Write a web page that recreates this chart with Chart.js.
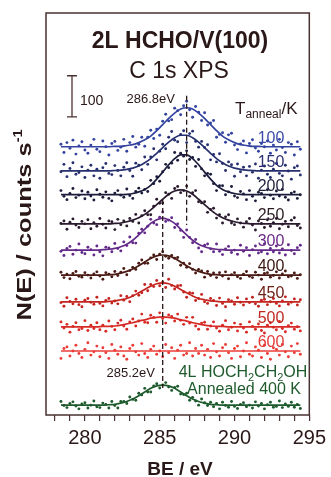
<!DOCTYPE html>
<html>
<head>
<meta charset="utf-8">
<script src="https://cdn.jsdelivr.net/npm/chart.js@4.4.1/dist/chart.umd.min.js"></script>
<style>
  html, body { margin: 0; padding: 0; background: #fff; }
  #xps { display: block; }
</style>
</head>
<body>
<canvas id="xps" width="331" height="477"></canvas>
<script>
// binding energy grid of the measured points (eV)
const beGrid = [278.4,278.6,278.8,279.0,279.2,279.4,279.6,279.8,280.0,280.2,280.4,280.6,280.8,281.0,281.2,281.4,281.6,281.8,282.0,282.2,
  282.4,282.6,282.8,283.0,283.2,283.4,283.6,283.8,284.0,284.2,284.4,284.6,284.8,285.0,285.2,285.4,285.6,285.8,286.0,286.2,
  286.4,286.6,286.8,287.0,287.2,287.4,287.6,287.8,288.0,288.2,288.4,288.6,288.8,289.0,289.2,289.4,289.6,289.8,290.0,290.2,
  290.4,290.6,290.8,291.0,291.2,291.4,291.6,291.8,292.0,292.2,292.4,292.6,292.8,293.0,293.2,293.4,293.6,293.8,294.0,294.2,294.4];
// grid of the fitted curves (eV)
const fitGrid = [278.4,278.8,279.2,279.6,280.0,280.4,280.8,281.2,281.6,282.0,282.4,282.8,283.2,283.6,284.0,284.4,284.8,285.2,285.6,286.0,
  286.4,286.8,287.2,287.6,288.0,288.4,288.8,289.2,289.6,290.0,290.4,290.8,291.2,291.6,292.0,292.4,292.8,293.2,293.6,294.0,294.4];

// counts above each trace's baseline
const counts100 = [6,-14,10,-4,16,-18,2,12,-8,-16, 4,18,-6,-12,14,0,-20,8,13,-9, -1,18,-11,10,25,-1,6,23,1,23,
  40,20,43,28,62,79,63,66,94,88, 78,100,111,90,72,98,84,64,83,53, 58,64,23,30,34,11,29,33,4,-7,
  7,14,-15,8,17,-3,-11,8,0,14, -16,4,-8,18,-2,-14,10,6,-20,12, -6];
const counts150 = [-2,16,-14,6,20,-8,-4,10,-16,2, 14,-12,4,-18,8,18,-6,-9,13,1, -12,9,20,1,-13,19,14,3,34,16,
  34,54,27,48,65,54,82,96,75,71, 89,98,69,91,97,72,58,72,57,64, 27,40,22,42,18,1,22,15,-13,17,
  -2,9,-12,11,-3,17,-18,2,12,-8, -16,4,18,-6,-12,14,0,-20,8,12, -10];
const counts200 = [10,-4,-12,3,15,-7,-1,9,-10,6, -3,-13,12,1,-6,7,-9,-15,4,10, -1,-6,14,-2,-9,8,16,4,13,8,
  35,27,44,33,56,74,66,77,103,84, 101,94,107,86,91,69,86,63,46,52, 50,27,10,22,22,0,7,20,-3,-7,
  8,2,-12,10,-4,-15,6,3,-7,12, -1,-10,9,-3,13,-6,-13,4,7,-9, 0];
const counts250 = [1,7,-13,4,12,-3,-9,6,0,10, -12,3,-6,13,-1,-10,7,5,-14,11, -2,7,-5,13,6,23,2,20,32,22,
  22,43,60,50,51,76,72,62,86,91, 76,81,92,67,76,81,54,51,54,28, 35,38,14,22,2,17,22,2,-2,12,
  2,-8,5,13,-3,-15,7,1,-9,10, -6,3,13,-12,-1,6,-7,9,15,-4, -10];
const counts300 = [-3,-13,4,9,-10,0,15,-6,-9,7, 1,-12,10,-4,-14,7,5,-4,16,4, -2,20,11,32,18,17,41,51,42,58,
  75,66,62,80,93,70,73,79,55,64, 48,31,49,31,18,26,5,-4,12,15, 3,-4,15,-3,-11,3,9,-6,0,-10,
  12,-3,6,-13,1,10,-7,-4,15,-9, 4,-4,10,-7,3,-12,13,-1,-9,6, 12];
const counts400 = [7,-6,2,-9,4,9,-3,-5,6,0, -7,3,8,-2,-10,6,2,-4,9,-1, 7,16,1,11,19,14,29,37,29,29,
  42,49,38,51,57,46,41,48,41,43, 24,29,19,28,14,5,14,10,-5,9, -1,5,-6,6,-2,8,-9,1,6,-4,
  -8,2,9,-3,-6,7,0,-10,4,6, -5,-1,8,-7,3,10,-4,-2,5,-8, 1];
const counts450 = [-2,-11,10,1,-5,6,-7,-12,4,8, -1,-6,11,-4,-10,3,8,-3,2,-5, 15,4,13,0,15,26,16,22,42,27,
  42,37,52,39,48,35,55,40,31,39, 40,24,11,22,21,3,8,18,0,-4, 8,3,-9,9,-4,-12,5,2,-6,10,
  -1,-8,7,-2,11,-5,-11,4,6,-7, 0,8,-4,-10,2,12,-6,-1,7,-8, 5];
const counts500 = [12,-3,6,-13,1,10,-7,-4,15,-9, 4,-4,10,-7,4,-11,14,1,-7,9, 16,2,-6,12,19,2,14,31,11,10,
  28,23,11,34,20,9,29,25,14,31, 16,6,23,9,23,2,-6,9,11,-6, 2,12,-3,-11,4,15,-7,-1,9,-10,
  6,-3,-13,12,1,-6,7,-9,-15,4, 10,-1,-7,13,-4,-12,3,9,-6,0, -10];
const counts600 = [-18,6,10,-12,0,14,-6,-16,4,20, -10,-2,12,-14,8,-4,-18,16,2,-8, 10,-12,-20,6,14,-2,-10,18,-6,-16,
  4,12,-8,0,-14,16,-4,8,-18,2, 14,-10,-6,20,-12,6,-6,14,-10,4, -16,18,-2,-12,8,16,-4,-18,6,12,
  -14,0,20,-8,-12,10,2,-16,14,-6, -20,8,4,-10,16,-2,-14,12,-4,18, -8];
const countsGlycol = [9,-1,-6,4,8,-2,-9,3,6,-7, 0,10,-4,-6,5,2,-7,9,-1,-7, 9,9,4,20,14,12,29,25,41,32,
  32,47,52,42,49,55,44,36,43,46, 27,26,29,12,19,10,0,15,6,-1, 7,-4,4,-9,7,-1,-5,9,-3,-8,
  2,6,-4,0,-7,8,-2,4,-9,1, 7,-5,-3,10,-6,3,-3,7,-5,2, -8];

// fitted curves, counts above baseline
const fit100 = [0,0,0,0,0,0,0,0,0,1,1,3,5,10,17,26,39,54,69,82,92,95,92,82,69,54,39,26,17,10,5,3,1,1,0,0,0,0,0,0,0];
const fit150 = [0,0,0,0,0,0,0,0,0,1,2,4,7,12,20,30,43,57,70,81,87,87,81,70,57,43,30,20,12,7,4,2,1,0,0,0,0,0,0,0,0];
const fit200 = [0,0,0,0,0,0,0,0,0,0,0,1,3,7,13,23,38,55,73,88,97,97,88,73,55,38,23,13,7,3,1,0,0,0,0,0,0,0,0,0,0];
const fit250 = [0,0,0,0,0,0,0,0,0,1,2,5,9,15,23,34,47,60,72,80,83,80,72,60,47,34,23,15,9,5,2,1,0,0,0,0,0,0,0,0,0];
const fit300 = [0,0,0,0,0,0,0,1,2,4,8,14,24,37,51,65,74,78,74,65,51,37,24,14,8,4,2,1,0,0,0,0,0,0,0,0,0,0,0,0,0];
const fit400 = [0,0,0,0,0,0,0,0,1,2,5,9,15,23,32,41,47,49,47,41,32,23,15,9,5,2,1,0,0,0,0,0,0,0,0,0,0,0,0,0,0];
const fit450 = [0,0,0,0,0,0,0,0,1,2,5,8,14,22,30,38,44,46,44,38,30,22,14,8,5,2,1,0,0,0,0,0,0,0,0,0,0,0,0,0,0];
const fit500 = [0,0,0,0,0,0,0,1,1,2,4,7,10,14,17,21,23,24,23,21,17,14,10,7,4,2,1,1,0,0,0,0,0,0,0,0,0,0,0,0,0];
const fit600 = [0,0,0,0,0,0,0,0,0,0,0,0,0,0,0,0,0,0,0,0,0,0,0,0,0,0,0,0,0,0,0,0,0,0,0,0,0,0,0,0,0];
const fitGlycol = [0,0,0,0,0,0,0,0,1,2,5,9,15,23,32,41,47,49,47,41,32,23,15,9,5,2,1,0,0,0,0,0,0,0,0,0,0,0,0,0,0];

const annealTemps = ["100", "150", "200", "250", "300", "400", "450", "500", "600"];
const baselines = [654, 595, 537, 466, 402, 341, 276, 215, 156, 24];   // vertical offsets, counts
const peakMarkers = [[286.8, 463, 778], [285.2, 66, 524]];              // eV, from counts, to counts
const scaleBar = [727, 827];                                            // 100 counts

const font = '"Liberation Sans", Arial, Helvetica, sans-serif';
const ink = "#2a1717";
const frameColor = "#4a3232";

const traces = [
  { counts: counts100, fit: fit100, color: "#33439f", text: "#3b4aa8" },
  { counts: counts150, fit: fit150, color: "#27306e", text: "#2c3070" },
  { counts: counts200, fit: fit200, color: "#1c1d3c", text: "#201f3c" },
  { counts: counts250, fit: fit250, color: "#2a1a2e", text: "#2b1c22" },
  { counts: counts300, fit: fit300, color: "#632a8a", text: "#6a2a86" },
  { counts: counts400, fit: fit400, color: "#4a1a14", text: "#3a1510" },
  { counts: counts450, fit: fit450, color: "#c4241f", text: "#6e2216" },
  { counts: counts500, fit: fit500, color: "#d72a26", text: "#c02a20" },
  { counts: counts600, fit: fit600, color: "#ec3c38", text: "#e23a35" },
  { counts: countsGlycol, fit: fitGlycol, color: "#1d5a2c", text: "#1d5a2c" }
];

const datasets = [];
traces.forEach((t, k) => {
  const base = baselines[k];
  datasets.push({
    data: beGrid.map((e, i) => ({ x: e, y: base + t.counts[i] })),
    showLine: false,
    pointRadius: 1.45,
    pointBorderWidth: 0,
    pointBackgroundColor: t.color,
    order: 2
  });
  datasets.push({
    data: fitGrid.map((e, i) => ({ x: e, y: base + t.fit[i] })),
    showLine: true,
    pointRadius: 0,
    borderColor: t.color,
    borderWidth: 1.7,
    cubicInterpolationMode: "monotone",
    order: 1
  });
});

function drawRuns(ctx, x, y, parts, align) {
  ctx.textAlign = "left";
  let total = 0;
  parts.forEach(p => { ctx.font = p[1]; total += ctx.measureText(p[0]).width; });
  let cx = align === "center" ? x - total / 2 : align === "right" ? x - total : x;
  parts.forEach(p => {
    ctx.font = p[1];
    ctx.fillText(p[0], cx, y + (p[2] || 0));
    cx += ctx.measureText(p[0]).width;
  });
  return total;
}

const decorations = {
  id: "decorations",
  afterDatasetsDraw(chart) {
    const { ctx, chartArea: a, scales: { x, y } } = chart;
    ctx.save();

    // frame
    ctx.strokeStyle = frameColor;
    ctx.lineWidth = 1.5;
    ctx.strokeRect(a.left, a.top, a.right - a.left, a.bottom - a.top);

    // dashed peak markers
    ctx.strokeStyle = ink;
    ctx.lineWidth = 1.3;
    ctx.setLineDash([5, 3]);
    peakMarkers.forEach(m => {
      const px = x.getPixelForValue(m[0]);
      ctx.beginPath();
      ctx.moveTo(px, y.getPixelForValue(m[2]));
      ctx.lineTo(px, y.getPixelForValue(m[1]));
      ctx.stroke();
    });
    ctx.setLineDash([]);

    // 100 counts scale bar
    const sbx = 72;
    const sy0 = y.getPixelForValue(scaleBar[0]), sy1 = y.getPixelForValue(scaleBar[1]);
    ctx.strokeStyle = frameColor;
    ctx.lineWidth = 1.3;
    ctx.beginPath();
    ctx.moveTo(sbx, sy0); ctx.lineTo(sbx, sy1);
    ctx.moveTo(sbx - 5, sy0); ctx.lineTo(sbx + 5, sy0);
    ctx.moveTo(sbx - 5, sy1); ctx.lineTo(sbx + 5, sy1);
    ctx.stroke();

    ctx.fillStyle = ink;
    ctx.textBaseline = "alphabetic";
    drawRuns(ctx, 80, 105, [["100", "14px " + font]], "left");

    // titles
    drawRuns(ctx, 180, 48, [["2L HCHO/V(100)", "bold 23px " + font]], "center");
    drawRuns(ctx, 179, 78, [["C 1s XPS", "23px " + font]], "center");

    // peak labels
    drawRuns(ctx, 175, 103, [["286.8eV", "13px " + font]], "right");
    drawRuns(ctx, 155, 377, [["285.2eV", "13px " + font]], "right");

    // T_anneal / K
    drawRuns(ctx, 235, 114, [["T", "17px " + font], ["anneal", "12px " + font, 4], ["/K", "17px " + font]], "left");

    // annealing temperature labels
    annealTemps.forEach((lab, k) => {
      ctx.fillStyle = traces[k].text;
      drawRuns(ctx, 271, y.getPixelForValue(baselines[k]) - 4, [[lab, "16px " + font]], "center");
    });

    // reference spectrum label
    ctx.fillStyle = traces[9].text;
    drawRuns(ctx, 243, 377, [["4L HOCH", "16px " + font], ["2", "11px " + font, 4], ["CH", "16px " + font],
      ["2", "11px " + font, 4], ["OH", "16px " + font]], "center");
    drawRuns(ctx, 244, 394, [["Annealed 400 K", "16px " + font]], "center");

    // axis titles
    ctx.fillStyle = ink;
    drawRuns(ctx, 180, 475, [["BE / eV", "bold 19px " + font]], "center");

    ctx.translate(31, 225);
    ctx.rotate(-Math.PI / 2);
    ctx.font = "bold 21px " + font;
    const w = ctx.measureText("N(E) / counts s").width + 13;
    ctx.scale(194 / w, 1);
    drawRuns(ctx, 0, 0, [["N(E) / counts s", "bold 21px " + font], ["-1", "bold 12px " + font, -9]], "center");

    ctx.restore();
  }
};

new Chart(document.getElementById("xps"), {
  type: "scatter",
  data: { datasets },
  options: {
    responsive: false,
    animation: false,
    devicePixelRatio: 1,
    layout: { padding: { left: 46, right: 18, top: 13, bottom: 0 } },
    plugins: { legend: { display: false }, tooltip: { enabled: false } },
    scales: {
      x: {
        type: "linear",
        min: 277.4,
        max: 295,
        afterFit(scale) { scale.height = 62; },
        border: { display: false },
        grid: { drawOnChartArea: false, drawTicks: true, tickLength: 6, color: frameColor, lineWidth: 1.2 },
        ticks: {
          stepSize: 1,
          autoSkip: false,
          maxRotation: 0,
          includeBounds: false,
          padding: 5,
          color: ink,
          font: { family: font, size: 20 },
          callback: v => (v % 5 === 0 ? String(v) : "")
        }
      },
      y: { display: false, min: 0, max: 980 }
    }
  },
  plugins: [decorations]
});
</script>
</body>
</html>
